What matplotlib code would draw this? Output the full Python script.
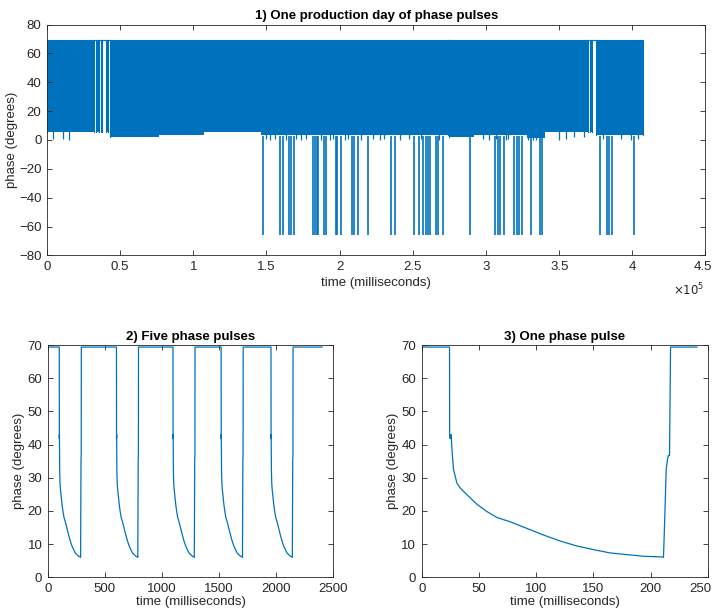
import numpy as np
import matplotlib
matplotlib.use("Agg")
import matplotlib.pyplot as plt
import matplotlib.transforms as mtransforms

plt.rcParams['font.family'] = ['Liberation Sans', 'DejaVu Sans']

blue = '#0072BD'
grey = '0.15'

# --- 1) one production day (ms) ---
active_start = [0, 33700, 36700, 40600, 43300, 274900, 371100, 375200]
active_end = [32100, 35300, 37800, 41700, 274300, 370000, 372500, 407100]
top_level = 69.3

# lower edge of the pulse band (step, starting at each time)
env_t = [0, 43300, 76500, 107500, 146500, 274900, 292000, 328000, 340000, 375200]
env_low = [5.4, 2.4, 3.8, 5.7, 3.4, 2.4, 3.5, 1.5, 5.4, 3.6]

# short dips below the band
notch_t = [4100, 10900, 15000, 149900, 152100, 155500, 163500, 170300, 173800,
           177200, 187400, 193100, 195400, 203400, 205600, 214800, 222700,
           227300, 230600, 240900, 247700, 255700, 268200, 297800, 302400,
           307000, 313800, 314900, 328500, 331900, 334300, 350200, 354700,
           360400, 367200, 379700, 392300, 399100, 403600]
notch_low = [0.8, 0.8, 0.0, 0.5, 0.0, 0.5, 0.3, 0.5, 0.2, 0.5, 0.3, 0.2, 0.5,
             0.3, 0.5, 0.2, 0.5, 0.3, 0.5, 0.3, 0.5, 0.4, 0.3, 0.5, 0.3, 0.5,
             0.3, 0.5, 0.0, 0.0, 0.0, 0.3, 0.5, 2.0, 2.0, 0.4, 0.5, 0.3, 0.5]

# pulses that dropped to about -65 degrees
spike_t = [147500, 159400, 161200, 165500, 166700, 168500, 181900, 183100,
           184200, 185100, 189200, 190400, 197200, 198300, 201100, 208300,
           209500, 212400, 219700, 235200, 238000, 250900, 253900, 256800,
           259300, 260500, 261600, 266000, 267100, 270700, 289200, 306000,
           308300, 309700, 312400, 319400, 321000, 322900, 324400, 330800,
           337000, 338100, 378000, 382500, 384300, 385900, 400900]
spike_low = -65.5

# --- 3) one phase pulse (ms, degrees) ---
pulse_t = [0, 24.2, 24.3, 25.0, 25.6, 26.5, 27.7, 30.6, 33.5, 39.3, 48.1, 56.8,
           65.6, 77.2, 91.8, 106.4, 120.9, 135.5, 150.1, 164.6, 179.2, 193.8,
           209.8, 211.2, 211.8, 213.6, 214.7, 215.6, 216.5, 217.4, 240.4]
pulse_v = [69.4, 69.4, 42.0, 41.8, 43.0, 37.5, 32.5, 28.4, 26.9, 24.9, 22.0,
           19.8, 18.0, 16.7, 14.7, 12.7, 10.9, 9.4, 8.3, 7.3, 6.8, 6.3, 6.1,
           6.0, 12.0, 32.5, 35.5, 36.7, 36.7, 69.4, 69.4]

# --- 2) five pulses: drop times (ms) ---
five_drop = [99.6, 600.8, 1096, 1518, 1955]
five_end = 2403


def style(ax):
    ax.tick_params(direction='in', top=True, right=True, length=3.5, width=0.6,
                   colors=grey, labelsize=9.5, pad=4)
    for s in ax.spines.values():
        s.set_linewidth(0.6)
        s.set_color(grey)


def nudge_last_xlabel(ax, px):
    lab = ax.get_xticklabels()[-1]
    off = mtransforms.ScaledTranslation(px / 100, 0, fig.dpi_scale_trans)
    lab.set_transform(lab.get_transform() + off)


fig = plt.figure(figsize=(7.15, 6.14), dpi=100)

# top panel
ax1 = fig.add_axes([0.0657, 0.584, 0.921, 0.376])
env_t_arr = np.array(env_t)
env_low_arr = np.array(env_low)
for s, e in zip(active_start, active_end):
    inner = env_t_arr[(env_t_arr > s) & (env_t_arr < e)]
    t = np.concatenate([[s], inner, [e]])
    idx = np.searchsorted(env_t_arr, t, side='right') - 1
    low = env_low_arr[idx]
    ax1.fill_between(t, low, top_level, step='post', color=blue, lw=0)
    ax1.plot([s, s], [low[0], top_level], color=blue, lw=0.8)
    ax1.plot([e, e], [low[-1], top_level], color=blue, lw=0.8)
ax1.plot([0, active_end[-1]], [top_level, top_level], color=blue, lw=0.8)
idx_n = np.searchsorted(env_t_arr, notch_t, side='right') - 1
ax1.vlines(notch_t, notch_low, env_low_arr[idx_n] + 0.5, color=blue, lw=0.9)
ax1.vlines(spike_t, spike_low, 3, color=blue, lw=1.2)
ax1.set_xlim(0, 450000)
ax1.set_ylim(-80, 80)
ax1.set_yticks(np.arange(-80, 81, 20))
ax1.set_xticks(np.arange(0, 450001, 50000))
ax1.set_xticklabels(['0', '0.5', '1', '1.5', '2', '2.5', '3', '3.5', '4', '4.5'])
ax1.text(0.975, -0.15, r'$\times10^{5}$', transform=ax1.transAxes,
         ha='center', va='center', fontsize=8.5, color=grey)
ax1.set_xlabel('time (milliseconds)', fontsize=9.5, color=grey, labelpad=3)
ax1.set_ylabel('phase (degrees)', fontsize=9.5, color=grey, labelpad=1)
ax1.set_title('1) One production day of phase pulses', fontsize=9.5,
              fontweight='bold', pad=4)
style(ax1)
nudge_last_xlabel(ax1, -3)

# bottom left: five pulses
ax2 = fig.add_axes([0.067, 0.060, 0.399, 0.378])
t5 = [0]
v5 = [pulse_v[0]]
for d in five_drop:
    t5 += [d + tt - pulse_t[1] for tt in pulse_t[1:-1]]
    v5 += pulse_v[1:-1]
t5.append(five_end)
v5.append(pulse_v[-1])
ax2.plot(t5, v5, color=blue, lw=0.9)
ax2.set_xlim(0, 2500)
ax2.set_ylim(0, 70)
ax2.set_xticks(np.arange(0, 2501, 500))
ax2.set_yticks(np.arange(0, 71, 10))
ax2.set_xlabel('time (milliseconds)', fontsize=9.5, color=grey, labelpad=1)
ax2.set_ylabel('phase (degrees)', fontsize=9.5, color=grey, labelpad=2)
ax2.set_title('2) Five phase pulses', fontsize=9.5, fontweight='bold', pad=4)
style(ax2)

# bottom right: one pulse
ax3 = fig.add_axes([0.590, 0.060, 0.400, 0.378])
ax3.plot(pulse_t, pulse_v, color=blue, lw=0.9)
ax3.set_xlim(0, 250)
ax3.set_ylim(0, 70)
ax3.set_xticks(np.arange(0, 251, 50))
ax3.set_yticks(np.arange(0, 71, 10))
ax3.set_xlabel('time (milliseconds)', fontsize=9.5, color=grey, labelpad=1)
ax3.set_ylabel('phase (degrees)', fontsize=9.5, color=grey, labelpad=2)
ax3.set_title('3) One phase pulse', fontsize=9.5, fontweight='bold', pad=4)
style(ax3)
nudge_last_xlabel(ax3, -7)

fig.savefig('out.png', dpi=100)
